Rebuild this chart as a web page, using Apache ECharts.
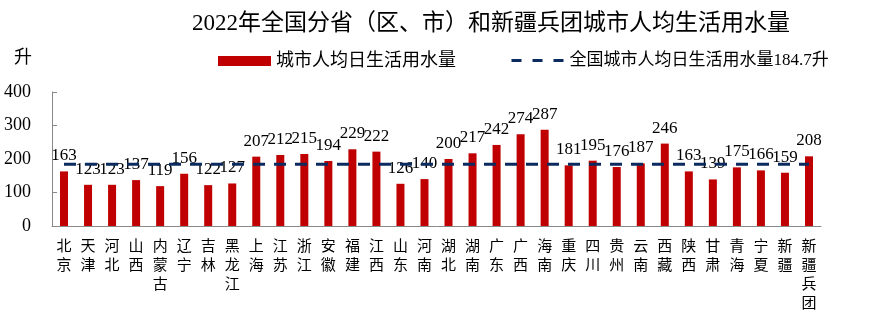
<!DOCTYPE html>
<html><head><meta charset="utf-8">
<script src="https://cdn.jsdelivr.net/npm/echarts@6/dist/echarts.min.js"></script>
<style>html,body{margin:0;padding:0;background:#fff}#c{width:891px;height:323px}</style>
</head><body><div id="c"></div>
<script>
const titleText = '2022年全国分省（区、市）和新疆兵团城市人均生活用水量';
const categories = ['北京','天津','河北','山西','内蒙古','辽宁','吉林','黑龙江','上海','江苏','浙江','安徽','福建','江西','山东','河南','湖北','湖南','广东','广西','海南','重庆','四川','贵州','云南','西藏','陕西','甘肃','青海','宁夏','新疆','新疆兵团'];
const cityWater = [163,123,123,137,119,156,122,127,207,212,215,194,229,222,126,140,200,217,242,274,287,181,195,176,187,246,163,139,175,166,159,208];
const nationalAvg = 184.7;
const barName = '城市人均日生活用水量';
const lineName = '全国城市人均日生活用水量184.7升';
const yTicks = [0,100,200,300,400];

const serif = '"Liberation Serif","Noto Sans CJK SC",serif';
const chart = echarts.init(document.getElementById('c'));
chart.setOption({
  animation:false,
  backgroundColor:'#fff',
  title:{text:titleText,left:486,textAlign:'center',top:7,textStyle:{fontFamily:serif,fontSize:23,fontWeight:'normal',color:'#000'}},
  graphic:[{type:'text',left:14,top:47,style:{text:'升',font:'18px "Noto Sans CJK SC"',fill:'#000'}}],
  legend:[
    {data:[{name:barName,icon:'rect'}],left:213,top:47,itemWidth:53,itemHeight:10,itemGap:5,textStyle:{fontFamily:serif,fontSize:18,color:'#000'}},
    {data:[lineName],left:505,top:47,itemWidth:53,itemHeight:10,itemGap:7,
      itemStyle:{opacity:0},
      lineStyle:{type:[10,11],width:3,color:'#0B2A60'},textStyle:{fontFamily:serif,fontSize:17,color:'#000'}}
  ],
  grid:{left:52,right:70,top:92,bottom:97},
  xAxis:{type:'category',data:categories,boundaryGap:true,
    axisLine:{lineStyle:{color:'#888'}},axisTick:{show:false},
    axisLabel:{interval:0,margin:10,fontFamily:'"Noto Sans CJK SC"',fontSize:15,lineHeight:19,color:'#000',
      formatter:v=>v.split('').join('\n')}},
  yAxis:{type:'value',min:yTicks[0],max:yTicks[yTicks.length-1],interval:100,
    splitLine:{show:false},axisLine:{show:true,lineStyle:{color:'#888'}},
    axisTick:{show:true,inside:true,length:5,lineStyle:{color:'#888'}},
    axisLabel:{margin:21,fontFamily:serif,fontSize:18,color:'#000'}},
  series:[
    {name:barName,type:'bar',data:cityWater,barWidth:8,itemStyle:{color:'#C00000'},
      label:{show:true,position:'top',distance:7,fontFamily:serif,fontSize:17,color:'#000'}},
    {name:lineName,type:'line',data:categories.map(()=>nationalAvg),symbol:'none',z:3,
      lineStyle:{color:'#0B2A60',width:3,type:[12,9]},itemStyle:{color:'#0B2A60'}}
  ]
});
</script></body></html>
